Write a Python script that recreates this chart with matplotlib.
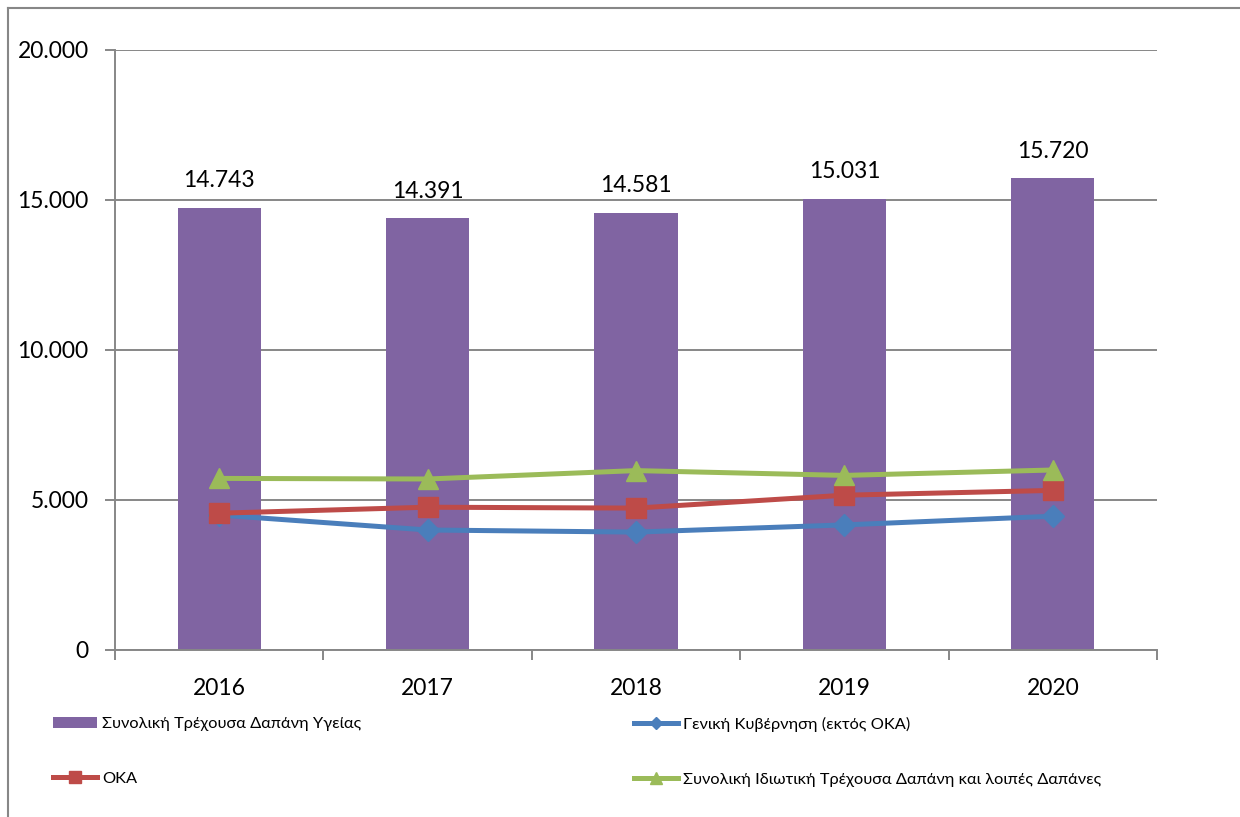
import matplotlib
matplotlib.use("Agg")
import matplotlib.pyplot as plt
from matplotlib.lines import Line2D
from matplotlib.ticker import FuncFormatter, FixedLocator

plt.rcParams['font.family'] = ['Lato', 'Noto Sans', 'DejaVu Sans']

years = ["2016", "2017", "2018", "2019", "2020"]
total_health = [14743, 14391, 14581, 15031, 15720]
general_gov = [4500, 4000, 3930, 4170, 4460]
oka = [4560, 4760, 4730, 5160, 5320]
private = [5720, 5700, 5980, 5820, 6000]

labels = ["Συνολική Τρέχουσα Δαπάνη Υγείας",
          "Γενική Κυβέρνηση (εκτός ΟΚΑ)",
          "ΟΚΑ",
          "Συνολική Ιδιωτική Τρέχουσα Δαπάνη και λοιπές Δαπάνες"]

purple = "#8064A2"
blue = "#4A7EBB"
red = "#BE4B48"
green = "#9BBB59"
grid_c = "#878787"

fig = plt.figure(figsize=(12.4, 8.17), dpi=100)
ax = fig.add_axes([115/1240, 1-650/817, (1157-115)/1240, 600/817])

x = list(range(len(years)))
bars = ax.bar(x, total_health, width=0.4, color=purple, zorder=2)
for xi, v in zip(x, total_health):
    ax.annotate(f"{v:,}".replace(",", "."), (xi, v), xytext=(0, 12),
                textcoords="offset points", ha="center", va="bottom", fontsize=16.5)

lb, = ax.plot(x, general_gov, color=blue, lw=3.6, marker="D", ms=11, zorder=3)
lr, = ax.plot(x, oka, color=red, lw=3.6, marker="s", ms=14, zorder=4)
lg, = ax.plot(x, private, color=green, lw=3.6, marker="^", ms=15, zorder=5)

ax.set_xlim(-0.5, len(years) - 0.5)
ax.set_ylim(0, 20000)
ax.set_yticks([0, 5000, 10000, 15000, 20000])
ax.yaxis.set_major_formatter(FuncFormatter(lambda v, p: f"{int(v):,}".replace(",", ".")))
ax.grid(axis="y", color=grid_c, lw=1.4, zorder=0)
ax.set_axisbelow(True)

ax.set_xticks(x)
ax.set_xticklabels(years, fontsize=16.5)
ax.xaxis.set_minor_locator(FixedLocator([i - 0.5 for i in range(len(years) + 1)]))
ax.tick_params(axis="x", which="major", length=0, pad=20)
ax.tick_params(axis="x", which="minor", length=7, width=1.4, color=grid_c, direction="out")
ax.tick_params(axis="y", length=7, width=1.4, color=grid_c, pad=12, labelsize=16.5)

for s in ["top", "right"]:
    ax.spines[s].set_visible(False)
for s in ["left", "bottom"]:
    ax.spines[s].set_color(grid_c)
    ax.spines[s].set_linewidth(1.4)

# outer chart border (left and top visible)
fig.add_artist(Line2D([8/1240, 8/1240], [0, 1-8/817], color=grid_c, lw=1.5, transform=fig.transFigure))
fig.add_artist(Line2D([8/1240, 1], [1-8/817, 1-8/817], color=grid_c, lw=1.5, transform=fig.transFigure))

common = dict(frameon=False, fontsize=11.8, handlelength=2.7, handletextpad=0.3,
              labelspacing=2.45, borderpad=0, borderaxespad=0, markerscale=0.6)
leg1 = fig.legend([bars, lr], [labels[0], labels[2]], loc="upper left",
                  bbox_to_anchor=(53/1240, 1-717/817), **common)
leg2 = fig.legend([lb, lg], [labels[1], labels[3]], loc="upper left",
                  bbox_to_anchor=(634/1240, 1-717/817), **common)

fig.savefig("out.png", dpi=100)
